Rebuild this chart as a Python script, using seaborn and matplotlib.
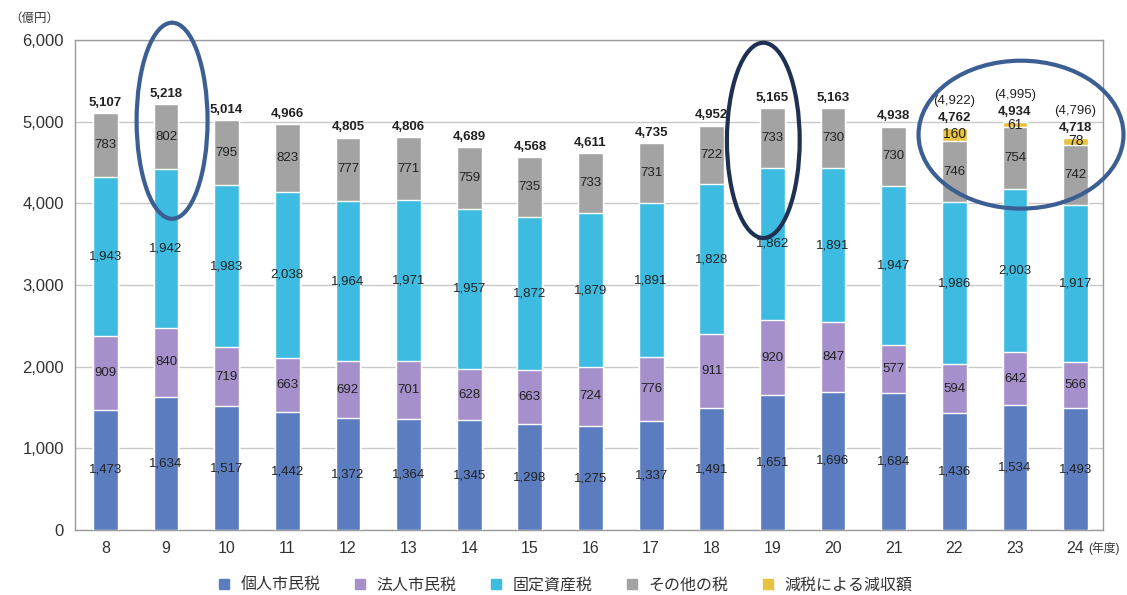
import matplotlib
matplotlib.use("Agg")
import matplotlib.pyplot as plt
import seaborn as sns
import numpy as np
import pandas as pd
from matplotlib.patches import Ellipse
from matplotlib.lines import Line2D

years = ["8", "9", "10", "11", "12", "13", "14", "15", "16", "17", "18", "19", "20", "21", "22", "23", "24"]
individual = [1473, 1634, 1517, 1442, 1372, 1364, 1345, 1298, 1275, 1337, 1491, 1651, 1696, 1684, 1436, 1534, 1493]
corporate = [909, 840, 719, 663, 692, 701, 628, 663, 724, 776, 911, 920, 847, 577, 594, 642, 566]
fixed_asset = [1943, 1942, 1983, 2038, 1964, 1971, 1957, 1872, 1879, 1891, 1828, 1862, 1891, 1947, 1986, 2003, 1917]
other = [783, 802, 795, 823, 777, 771, 759, 735, 733, 731, 722, 733, 730, 730, 746, 754, 742]
reduction = [0, 0, 0, 0, 0, 0, 0, 0, 0, 0, 0, 0, 0, 0, 160, 61, 78]
totals = [5107, 5218, 5014, 4966, 4805, 4806, 4689, 4568, 4611, 4735, 4952, 5165, 5163, 4938, 4762, 4934, 4718]
totals_before = {"22": 4922, "23": 4995, "24": 4796}
legend_labels = ["個人市民税", "法人市民税", "固定資産税", "その他の税", "減税による減収額"]
colors = ["#5b7dbf", "#a690cc", "#3dbbe0", "#a3a3a3", "#e8c241"]

sns.set_theme(style="white")
plt.rcParams["font.family"] = ["Liberation Sans", "Noto Sans CJK JP", "DejaVu Sans"]

df = pd.DataFrame({"year": years, "individual": individual, "corporate": corporate,
                   "fixed": fixed_asset, "other": other, "reduction": reduction})
df["c1"] = df["individual"]
df["c2"] = df["c1"] + df["corporate"]
df["c3"] = df["c2"] + df["fixed"]
df["c4"] = df["c3"] + df["other"]
df["c5"] = df["c4"] + df["reduction"]

fig = plt.figure(figsize=(11.27, 5.95), dpi=100)
ax = fig.add_axes([0.0666, 0.109, 0.912, 0.824])

bw = 0.41
for col, c in zip(["c5", "c4", "c3", "c2", "c1"], colors[::-1]):
    sns.barplot(data=df, x="year", y=col, order=years, color=c, width=bw,
                edgecolor="white", linewidth=1.0, ax=ax, saturation=1, zorder=3)

ax.set_ylim(0, 6000)
ax.set_xlim(-0.5, 16.45)
ax.set_yticks(np.arange(0, 6001, 1000))
ax.set_yticklabels([f"{v:,}" for v in range(0, 6001, 1000)], fontsize=12, color="#333333")
ax.set_xticks(range(len(years)))
ax.set_xticklabels(years, fontsize=11.5, color="#333333")
ax.tick_params(axis="both", length=0, pad=8)
ax.set_xlabel("")
ax.set_ylabel("")
ax.yaxis.grid(True, color="#c8c8c8", linewidth=1.0, zorder=0)
ax.set_axisbelow(True)
for s in ax.spines.values():
    s.set_color("#9a9a9a")
    s.set_linewidth(1.0)

# segment labels
for i in range(len(years)):
    bottoms = [0, df["c1"][i], df["c2"][i], df["c3"][i]]
    vals = [individual[i], corporate[i], fixed_asset[i], other[i]]
    for b, v in zip(bottoms, vals):
        ax.text(i, b + v / 2, f"{v:,}", ha="center", va="center", fontsize=9.5, color="#222222", zorder=5)
    if reduction[i] > 0:
        ax.text(i, df["c4"][i] + reduction[i] / 2, f"{reduction[i]:,}", ha="center", va="center",
                fontsize=10, color="#222222", zorder=5)
    top = df["c5"][i]
    ax.annotate(f"{totals[i]:,}", (i, top), xytext=(0, 3), textcoords="offset points",
                ha="center", va="bottom", fontsize=9.5, fontweight="bold", color="#222222", zorder=5)
    if years[i] in totals_before:
        ax.annotate(f"({totals_before[years[i]]:,})", (i, top), xytext=(0, 15), textcoords="offset points",
                    ha="center", va="bottom", fontsize=9.5, color="#222222", zorder=5)

# highlight ellipses
ax.add_patch(Ellipse((1.1, 5010), 1.17, 2400, fill=False, edgecolor="#3b5e93", linewidth=3, zorder=6, clip_on=False))
ax.add_patch(Ellipse((10.85, 4770), 1.2, 2390, fill=False, edgecolor="#1f3152", linewidth=3, zorder=6, clip_on=False))
ax.add_patch(Ellipse((15.1, 4840), 3.38, 1810, fill=False, edgecolor="#3b5e93", linewidth=3, zorder=6, clip_on=False))

fig.text(0.008, 0.968, "（億円）", fontsize=9, color="#333333", ha="left", va="center")
fig.text(0.966, 0.079, "(年度)", fontsize=8.5, color="#333333", ha="left", va="center")

handles = [Line2D([0], [0], marker="s", linestyle="none", markersize=6.5, markerfacecolor=c, markeredgecolor=c)
           for c in colors]
fig.legend(handles, legend_labels, loc="center", bbox_to_anchor=(0.497, 0.017), ncol=5, frameon=False,
           fontsize=11.5, handletextpad=0.0, columnspacing=1.5, labelcolor="#333333")

fig.savefig("out.png", dpi=100)
